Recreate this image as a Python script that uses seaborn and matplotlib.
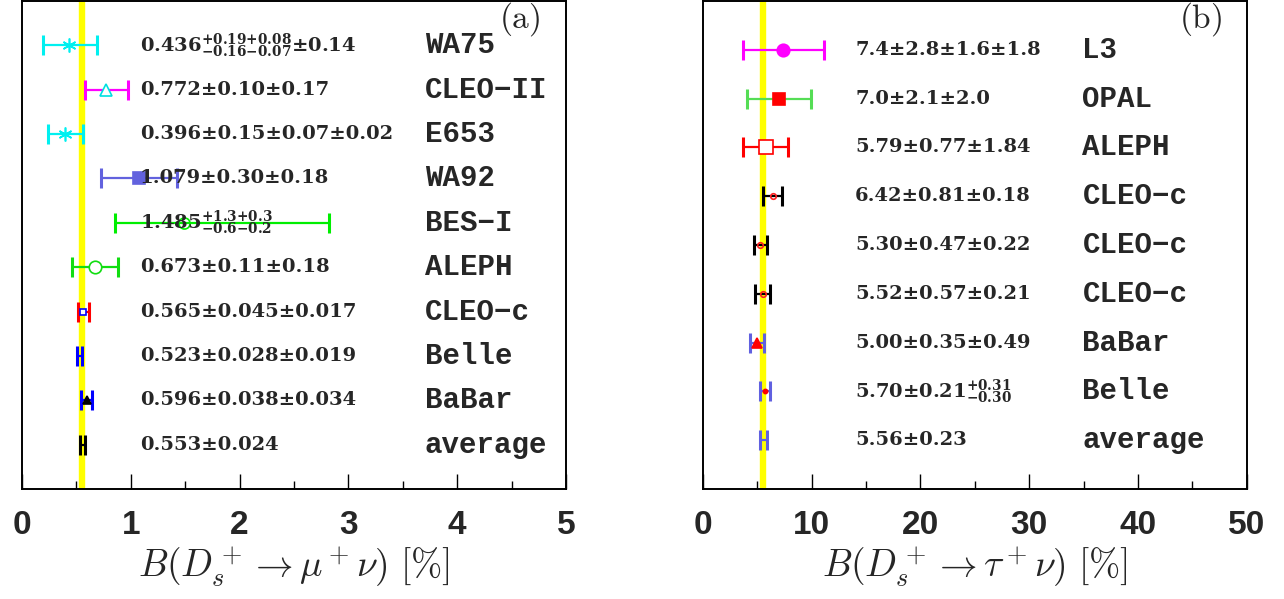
import numpy as np
import seaborn as sns
import matplotlib.pyplot as plt

sns.set_theme(style='white', rc={'xtick.direction': 'in', 'xtick.bottom': True})
plt.rcParams['font.family'] = ['DejaVu Sans']

# panel (a): B(Ds -> mu nu)
mu_labels = ['WA75', 'CLEO\u2212II', 'E653', 'WA92', 'BES\u2212I', 'ALEPH', 'CLEO\u2212c', 'Belle', 'BaBar', 'average']
mu_val = [0.436, 0.772, 0.396, 1.079, 1.485, 0.673, 0.565, 0.523, 0.596, 0.553]
mu_lo = [0.246, 0.19, 0.16, 0.353, 0.63, 0.21, 0.047, 0.018, 0.05, 0.024]
mu_hi = [0.254, 0.20, 0.168, 0.35, 1.335, 0.21, 0.05, 0.025, 0.05, 0.024]
mu_text = ['0.436$^{\\mathbf{+0.19{+}0.08}}_{\\mathbf{-0.16{-}0.07}}$\u00b10.14',
           '0.772\u00b10.10\u00b10.17',
           '0.396\u00b10.15\u00b10.07\u00b10.02',
           '1.079\u00b10.30\u00b10.18',
           '1.485$^{\\mathbf{+1.3{+}0.3}}_{\\mathbf{-0.6{-}0.2}}$',
           '0.673\u00b10.11\u00b10.18',
           '0.565\u00b10.045\u00b10.017',
           '0.523\u00b10.028\u00b10.019',
           '0.596\u00b10.038\u00b10.034',
           '0.553\u00b10.024']

# panel (b): B(Ds -> tau nu)
tau_labels = ['L3', 'OPAL', 'ALEPH', 'CLEO\u2212c', 'CLEO\u2212c', 'CLEO\u2212c', 'BaBar', 'Belle', 'average']
tau_val = [7.4, 7.0, 5.79, 6.42, 5.30, 5.52, 5.00, 5.70, 5.56]
tau_lo = [3.67, 2.9, 2.06, 0.9, 0.6, 0.68, 0.63, 0.4, 0.27]
tau_hi = [3.75, 2.93, 2.08, 0.9, 0.63, 0.69, 0.68, 0.48, 0.36]
tau_text = ['7.4\u00b12.8\u00b11.6\u00b11.8',
            '7.0\u00b12.1\u00b12.0',
            '5.79\u00b10.77\u00b11.84',
            '6.42\u00b10.81\u00b10.18',
            '5.30\u00b10.47\u00b10.22',
            '5.52\u00b10.57\u00b10.21',
            '5.00\u00b10.35\u00b10.49',
            '5.70\u00b10.21$^{\\mathbf{+0.31}}_{\\mathbf{-0.30}}$',
            '5.56\u00b10.23']

# styles: bar colour, marker, marker face, marker edge, marker size
mu_style = [('#00f0f0', (6, 2, 0), '#00f0f0', '#00f0f0', 10),
            ('#ff00ff', '^', 'white', '#00e0e0', 9),
            ('#00f0f0', (6, 2, 0), '#00f0f0', '#00f0f0', 10),
            ('#6262de', 's', '#6262de', '#6262de', 9),
            ('#00ee00', 'o', 'none', '#00ee00', 8),
            ('#11dd11', 'o', 'white', '#11dd11', 9),
            ('#ff0000', 's', 'white', '#0000ff', 5),
            ('#0000ff', '', 'none', 'none', 0),
            ('#0000ff', '^', 'black', 'black', 6),
            ('black', '', 'none', 'none', 0)]
tau_style = [('#ff00ff', 'o', '#ff00ff', '#ff00ff', 9),
             ('#55dd55', 's', '#ff0000', '#ff0000', 9),
             ('#ff0000', 's', 'white', '#ff0000', 10),
             ('black', 'o', 'none', '#ff2020', 4),
             ('black', 'o', 'none', '#ff2020', 4),
             ('black', 'o', 'none', '#ff2020', 4),
             ('#6060e0', '^', '#ff0000', '#ff0000', 7),
             ('#6060e0', 'o', '#ff0000', '#ff0000', 3),
             ('#6060e0', '', 'none', 'none', 0)]

fig = plt.figure(figsize=(12.84, 5.99), dpi=100)
ax1 = fig.add_axes([22 / 1284, 1 - 489 / 599, 544 / 1284, 488 / 599])
ax2 = fig.add_axes([702.7 / 1284, 1 - 489 / 599, 544 / 1284, 488 / 599])


def draw(ax, vals, lo, hi, texts, labels, styles, xmax, xt, xl, tag, xlabel):
    rows = np.arange(1, len(vals) + 1)
    ax.axvline(vals[-1], color='#ffff00', lw=4.6, zorder=0)
    for y, v, l, h, st in zip(rows, vals, lo, hi, styles):
        c, m, mf, me, ms = st
        ax.errorbar([v], [y], xerr=[[l], [h]], fmt='none', ecolor=c,
                    elinewidth=1.6, capsize=7, capthick=2.2, zorder=2)
        if m:
            ax.plot([v], [y], marker=m, ms=ms, mfc=mf, mec=me, mew=1.2,
                    ls='none', zorder=3)
    for y, t, lab in zip(rows, texts, labels):
        ax.text(xt, y, t, fontsize=14, fontweight='bold', family='DejaVu Serif',
                math_fontfamily='dejavuserif', va='center', ha='left', zorder=4)
        ax.text(xl, y, lab, fontsize=21, fontweight='bold', family='Liberation Mono',
                va='center', ha='left', zorder=4)
    ax.set_xlim(0, xmax)
    ax.set_ylim(len(vals) + 1, 0)
    ax.set_yticks([])
    ax.set_xticks(np.linspace(0, xmax, 6))
    ax.set_xticks(np.linspace(0, xmax, 11), minor=True)
    ax.set_xticklabels([f'{t:g}' for t in np.linspace(0, xmax, 6)],
                       fontsize=24, fontweight='bold', family='Liberation Sans')
    ax.tick_params(axis='x', which='major', direction='in', length=11, width=1,
                   color='black', pad=15, bottom=True, top=False)
    ax.tick_params(axis='x', which='minor', direction='in', length=6, width=1,
                   color='black', bottom=True, top=False)
    for s in ax.spines.values():
        s.set_color('black')
        s.set_linewidth(1.4)
    ax.text(0.915, 0.962, tag, transform=ax.transAxes, fontsize=24,
            math_fontfamily='cm', ha='center', va='center')
    ax.set_xlabel(xlabel, fontsize=27, math_fontfamily='cm', labelpad=3)


draw(ax1, mu_val, mu_lo, mu_hi, mu_text, mu_labels, mu_style, 5, 1.085, 3.70,
     r'$(\mathrm{a})$', r'$B(D_s^+ \to \mu^+\nu)\ [\%]$')
draw(ax2, tau_val, tau_lo, tau_hi, tau_text, tau_labels, tau_style, 50, 14.0, 34.9,
     r'$(\mathrm{b})$', r'$B(D_s^+ \to \tau^+\nu)\ [\%]$')

fig.savefig('out.png', dpi=100)
